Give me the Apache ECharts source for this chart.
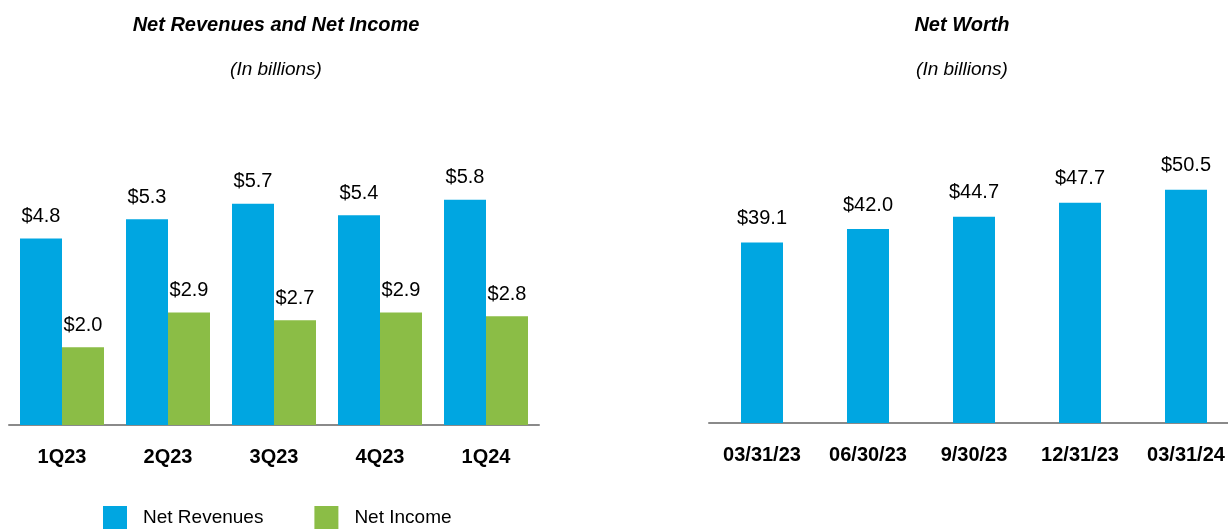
<!DOCTYPE html>
<html lang="en">
<head>
    <meta charset="UTF-8">
    <title>Net Revenues / Net Worth</title>
    <script src="https://cdn.jsdelivr.net/npm/echarts@6/dist/echarts.min.js"></script>
    <style>
        html, body { margin: 0; padding: 0; background: #ffffff; }
        #main { width: 1228px; height: 529px; }
    </style>
</head>
<body>
<div id="main"></div>

<script>
    var quarters = ['1Q23', '2Q23', '3Q23', '4Q23', '1Q24'];
    var netRevenues = [4.8, 5.3, 5.7, 5.4, 5.8];
    var netIncome = [2.0, 2.9, 2.7, 2.9, 2.8];

    var dates = ['03/31/23', '06/30/23', '9/30/23', '12/31/23', '03/31/24'];
    var netWorth = [39.1, 42.0, 44.7, 47.7, 50.5];

    // no narrow font installed, so sizes are picked to match the text widths
    var FONT = "'Liberation Sans', Arial, sans-serif";
    var BLUE = '#00a6e1';
    var GREEN = '#8bbd46';
    var AXIS = '#8a8a8a';

    function money(p) {
        return '$' + p.value.toFixed(1);
    }

    var xAxisBase = {
        type: 'category',
        axisLine: { lineStyle: { color: AXIS, width: 2 } },
        axisTick: { alignWithLabel: true, length: 11, lineStyle: { color: AXIS, width: 2 } },
        axisLabel: { interval: 0, color: '#000', fontFamily: FONT, fontWeight: 'bold', fontSize: 20, margin: 22 }
    };

    var labelBase = { show: true, position: 'top', formatter: money, fontFamily: FONT, fontSize: 20, color: '#000' };

    var chart = echarts.init(document.getElementById('main'), null, { renderer: 'canvas' });
    var option = {
        animation: false,
        title: [
            { text: 'Net Revenues and Net Income', left: 276, top: 15, padding: 0, textAlign: 'center',
              textStyle: { fontFamily: FONT, fontSize: 20, fontWeight: 'bold', fontStyle: 'italic', color: '#000' } },
            { text: '(In billions)', left: 276, top: 60, padding: 0, textAlign: 'center',
              textStyle: { fontFamily: FONT, fontSize: 19, fontWeight: 'normal', fontStyle: 'italic', color: '#000' } },
            { text: 'Net Worth', left: 962, top: 15, padding: 0, textAlign: 'center',
              textStyle: { fontFamily: FONT, fontSize: 20, fontWeight: 'bold', fontStyle: 'italic', color: '#000' } },
            { text: '(In billions)', left: 962, top: 60, padding: 0, textAlign: 'center',
              textStyle: { fontFamily: FONT, fontSize: 19, fontWeight: 'normal', fontStyle: 'italic', color: '#000' } }
        ],
        legend: {
            data: ['Net Revenues', 'Net Income'],
            left: 103,
            top: 506,
            padding: 0,
            icon: 'rect',
            itemWidth: 24,
            itemHeight: 24,
            itemGap: 51,
            textStyle: { fontFamily: FONT, fontSize: 19, color: '#000', padding: [0, 0, 0, 11] }
        },
        grid: [
            { left: 9, width: 530, top: 192, height: 233, outerBoundsMode: 'none' },
            { left: 709, width: 530, top: 146, height: 277, outerBoundsMode: 'none' }
        ],
        xAxis: [
            Object.assign({ gridIndex: 0, data: quarters }, xAxisBase),
            Object.assign({ gridIndex: 1, data: dates }, xAxisBase)
        ],
        yAxis: [
            { gridIndex: 0, type: 'value', min: 0, max: 6, show: false },
            { gridIndex: 1, type: 'value', min: 0, max: 60, show: false }
        ],
        series: [
            {
                name: 'Net Revenues', type: 'bar', xAxisIndex: 0, yAxisIndex: 0,
                data: netRevenues, barWidth: 42, barGap: '0%',
                itemStyle: { color: BLUE },
                label: Object.assign({ distance: 12 }, labelBase)
            },
            {
                name: 'Net Income', type: 'bar', xAxisIndex: 0, yAxisIndex: 0,
                data: netIncome, barWidth: 42, barGap: '0%',
                itemStyle: { color: GREEN },
                label: Object.assign({ distance: 12 }, labelBase)
            },
            {
                name: 'Net Worth', type: 'bar', xAxisIndex: 1, yAxisIndex: 1,
                data: netWorth, barWidth: 42,
                itemStyle: { color: BLUE },
                label: Object.assign({ distance: 14 }, labelBase)
            }
        ]
    };
    chart.setOption(option);
</script>
</body>
</html>
